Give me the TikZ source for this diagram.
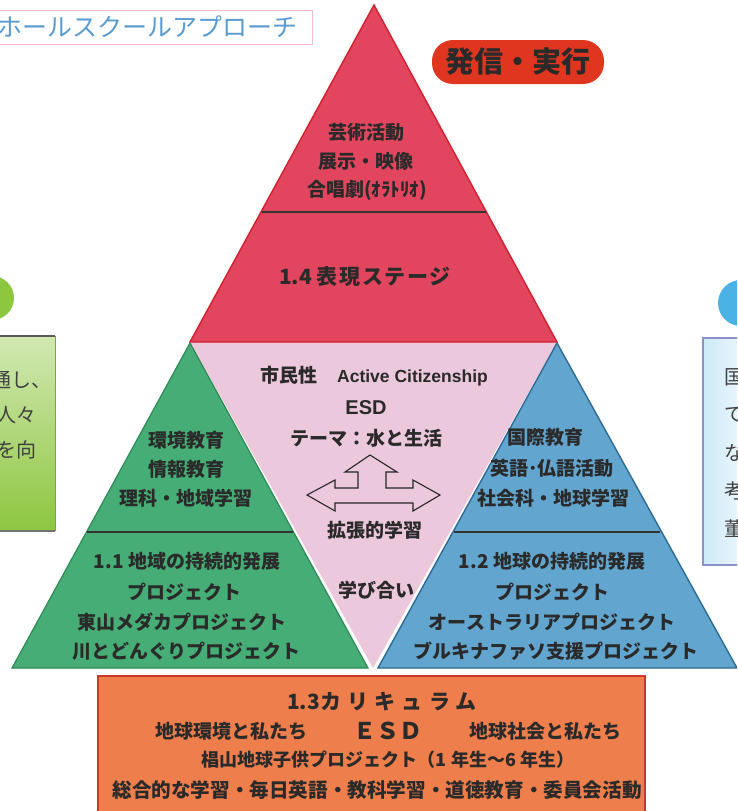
\documentclass[tikz,border=0pt]{standalone}
\usepackage{fontspec}
\setmainfont{Noto Sans CJK JP}
\newfontfamily\jp{Noto Sans CJK JP}
\newfontfamily\jpsp[LetterSpace=30]{Noto Sans CJK JP}
\newfontfamily\jpsm[LetterSpace=8]{Noto Sans CJK JP}
\newfontfamily\arl{Liberation Sans}
\definecolor{redfill}{HTML}{E1465E}
\definecolor{redline}{HTML}{D21F2F}
\definecolor{greenfill}{HTML}{45AD75}
\definecolor{greenline}{HTML}{2E8A55}
\definecolor{bluefill}{HTML}{62A5CE}
\definecolor{blueline}{HTML}{2D6A95}
\definecolor{pinkfill}{HTML}{EBC8DC}
\definecolor{orangefill}{HTML}{EE7E4C}
\definecolor{orangeline}{HTML}{C83A2C}
\definecolor{pillred}{HTML}{E0361F}
\definecolor{txt}{HTML}{2A2A2A}
\definecolor{titleblue}{HTML}{5A9BD0}
\definecolor{titlepink}{HTML}{F2BBCB}
\definecolor{lgreen}{HTML}{8DC63F}
\definecolor{lblue}{HTML}{4BB2E6}
\definecolor{boxedge}{HTML}{8C90C8}
\definecolor{divline}{HTML}{333333}
\tikzset{
  lbl/.style={inner sep=0pt, text=txt, font={\fontsize{19}{22}\selectfont\jp\bfseries}},
  olbl/.style={inner sep=0pt, text=txt, font={\fontsize{20}{24}\selectfont\jp\bfseries}},
  sidetxt/.style={inner sep=0pt, text=black!75, font={\fontsize{20}{24}\selectfont\jp}},
  divider/.style={draw=divline, line width=1.3pt},
}
\begin{document}
\begin{tikzpicture}[x=1pt,y=-1pt]
\useasboundingbox (0,0) rectangle (737,811);
\clip (0,0) rectangle (737,811);
\fill[white] (0,0) rectangle (737,811);

% title box
\draw[titlepink, line width=1pt, fill=white] (-5,10) rectangle (312,44);
\node[anchor=east, inner sep=0pt, text=titleblue, font={\fontsize{25}{28}\selectfont\jp}] (title) at (298,27) {ホールスクールアプローチ};

% pill
\node[fill=pillred, rounded corners=21pt, minimum width=172pt, minimum height=44pt, inner sep=0pt, text=txt, font={\fontsize{29}{32}\selectfont\jp\bfseries}] (pill) at (518,62) {発信・実行};

% side elements left
\fill[lgreen] (-8,298) circle (22);
\shade[top color=lgreen!40!white, bottom color=lgreen, middle color=lgreen!70!white] (-5,336) rectangle (55,531);
\draw[lgreen!85!black, line width=0.8pt] (55,336) -- (55,531);
\draw[black!65, line width=1.5pt] (-5,336) -- (55,336);
\draw[black!55, line width=1.2pt] (-5,531) -- (55,531);
\node[sidetxt, anchor=east] (l1) at (52,380) {通し、};
\node[sidetxt, anchor=east] (l2) at (37,415) {人々};
\node[sidetxt, anchor=east] (l3) at (37,450) {を向};

% side elements right
\fill[lblue] (741,303) circle (23);
\shade[left color=lblue!28!white, right color=lblue!10!white] (703,338) rectangle (745,565);
\draw[boxedge, line width=1.2pt] (745,338) -- (703,338) -- (703,565) -- (745,565);
\node[sidetxt, anchor=west] (r1) at (724,377) {国};
\node[sidetxt, anchor=west] (r2) at (724,415) {で};
\node[sidetxt, anchor=west] (r3) at (724,453) {な};
\node[sidetxt, anchor=west] (r4) at (724,491) {考};
\node[sidetxt, anchor=west] (r5) at (724,529) {董};

% triangles
\fill[pinkfill] (190,342) -- (557,342) -- (373,668) -- cycle;
\filldraw[fill=greenfill, draw=greenline, line width=1.2pt] (190,343) -- (368,668) -- (12,668) -- cycle;
\filldraw[fill=bluefill, draw=blueline, line width=1.4pt] (557,343) -- (737,668) -- (378,668) -- cycle;
\filldraw[fill=redfill, draw=redline, line width=1.4pt] (374,5) -- (557,342) -- (190,342) -- cycle;

% dividers
\draw[divider] (262,212) -- (486,212);
\draw[divider] (87,532) -- (293,532);
\draw[divider] (454,532) -- (660,532);

% red texts
\node[lbl] (ra) at (366,132) {芸術活動};
\node[lbl] (rb) at (366,161) {展示・映像};
\node[lbl] (rc) at (367,190) {合唱劇(ｵﾗﾄﾘｵ)};
\node[lbl, font={\fontsize{21}{24}\selectfont\jp\bfseries}] (rd) at (365,277) {1.4 {\jpsm 表現ステージ}};

% green texts
\node[lbl] (ga) at (186,440) {環境教育};
\node[lbl] (gb) at (186,469) {情報教育};
\node[lbl] (gc) at (186,498) {理科・地域学習};
\node[lbl] (gd) at (187,561) {1.1 地域の持続的発展};
\node[lbl] (ge) at (184,592) {プロジェクト};
\node[lbl] (gf) at (182,622) {東山メダカプロジェクト};
\node[lbl] (gg) at (186,651) {川とどんぐりプロジェクト};

% blue texts
\node[lbl] (ba) at (545,437) {国際教育};
\node[lbl] (bb) at (552,468) {英語･仏語活動};
\node[lbl] (bc) at (553,498) {社会科・地球学習};
\node[lbl] (bd) at (552,561) {1.2 地球の持続的発展};
\node[lbl] (be) at (552,592) {プロジェクト};
\node[lbl] (bf) at (552,622) {オーストラリアプロジェクト};
\node[lbl] (bg) at (556,651) {ブルキナファソ支援プロジェクト};

% pink texts
\node[lbl] (pa) at (374,376) {市民性\hspace{20pt}{\arl\bfseries\fontsize{17.5}{20}\selectfont Active Citizenship}};
\node[lbl, font={\fontsize{20}{22}\selectfont\arl\bfseries}] (pb) at (366,408) {ESD};
\node[lbl] (pc) at (366,438) {テーマ：水と生活};
\node[lbl] (pd) at (375,530) {拡張的学習};
\node[lbl] (pe) at (376,590) {学び合い};

% three-way arrow
\draw[fill=pinkfill, draw=black!85, line width=1.1pt, line join=miter]
  (370,455) -- (397,472) -- (386,472) -- (386,488) -- (413,488) -- (413,480)
  -- (440,495) -- (413,511) -- (413,503) -- (335,503) -- (335,511)
  -- (307,495) -- (335,480) -- (335,488) -- (358,488) -- (358,472)
  -- (345,472) -- cycle;

% orange box
\filldraw[fill=orangefill, draw=orangeline, line width=1.5pt] (98,676) rectangle (645,830);
\node[olbl, font={\fontsize{21}{24}\selectfont\jp\bfseries}] (oa) at (382,702) {1.3{\jpsp カリキュラム}};
\node[olbl, font={\fontsize{19}{22}\selectfont\jp\bfseries}] (ob) at (231,731) {地球環境と私たち};
\node[olbl, font={\fontsize{23}{26}\selectfont\jp\bfseries}] (oc) at (388,731) {ＥＳＤ};
\node[olbl, font={\fontsize{19}{22}\selectfont\jp\bfseries}] (od) at (545,731) {地球社会と私たち};
\node[olbl, font={\fontsize{18}{22}\selectfont\jp\bfseries}] (oe) at (388,760) {椙山地球子供プロジェクト（1 年生～6 年生）};
\node[olbl, font={\fontsize{19.6}{24}\selectfont\jp\bfseries}] (of) at (377,790) {総合的な学習・毎日英語・教科学習・道徳教育・委員会活動};
\end{tikzpicture}
\end{document}
